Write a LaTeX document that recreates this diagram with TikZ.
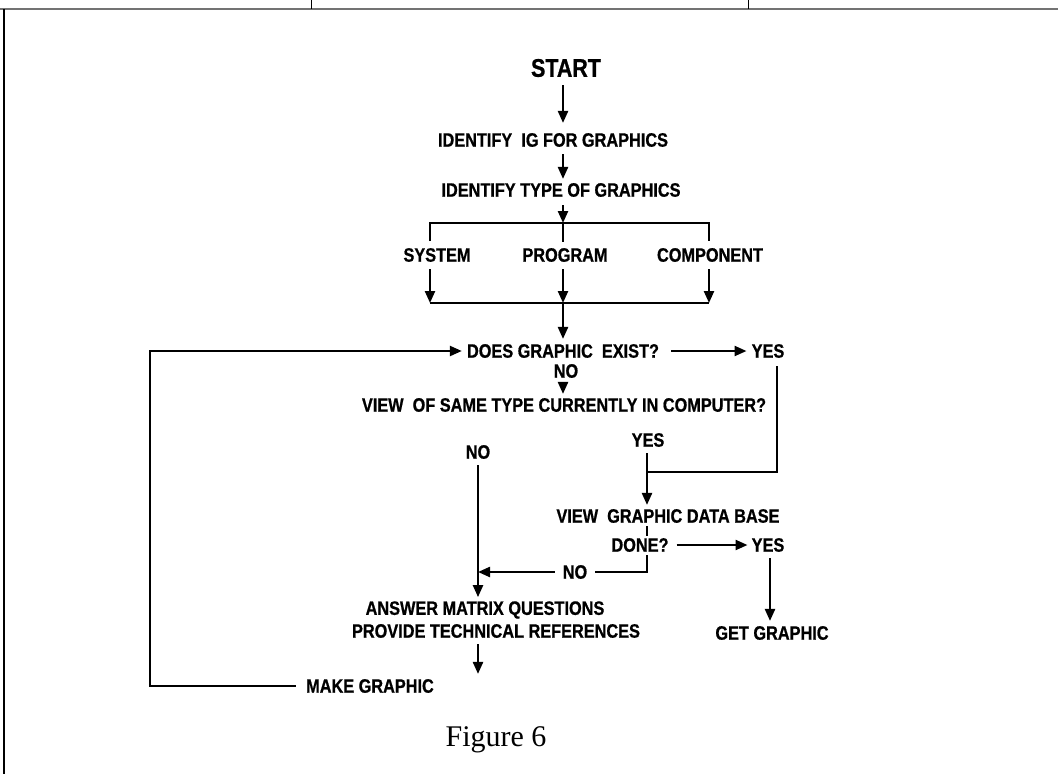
\documentclass[tikz,border=0pt]{standalone}
\usepackage{fontspec}
\newfontfamily\flowfont{Liberation Sans}[FakeStretch=0.84, BoldFeatures={FakeBold=0.8}]
\newfontfamily\capfont{Liberation Serif}
\usetikzlibrary{arrows.meta}
\begin{document}
\begin{tikzpicture}[x=1pt,y=-1pt,
  lbl/.style={inner sep=0pt, font=\flowfont\bfseries\fontsize{19.4}{21}\selectfont},
  biglbl/.style={inner sep=0pt, font=\flowfont\bfseries\fontsize{25.5}{27}\selectfont},
  wire/.style={line width=2.3pt, line join=miter, line cap=butt},
  arr/.style={wire, -{Triangle[length=12pt,width=10pt]}},
]
\useasboundingbox (0,0) rectangle (1058,774);

% page frame
\draw[line width=2pt, black!55] (0,9) -- (1058,9);
\draw[line width=1.2pt] (4,9) -- (4,774);
\draw[line width=1pt] (311,0) -- (311,9);
\draw[line width=1pt] (748,0) -- (748,9);

% column guides
\coordinate (ax) at (563,0);
\coordinate (vgx) at (647,0);
\coordinate (nx) at (478,0);
\coordinate (gx) at (770,0);

% texts
\node[biglbl] (start) at (566,68) {START};
\node[lbl] (idig) at (553,140) {IDENTIFY\ \ IG FOR GRAPHICS};
\node[lbl] (idtype) at (561,190) {IDENTIFY TYPE OF GRAPHICS};
\node[lbl] (sys) at (437,255) {SYSTEM};
\node[lbl] (prog) at (565,255) {PROGRAM};
\node[lbl] (comp) at (710,255) {COMPONENT};
\node[lbl] (does) at (563,351) {DOES GRAPHIC\ \ EXIST?};
\node[lbl] (yes1) at (768,351) {YES};
\node[lbl] (no1) at (566,371) {NO};
\node[lbl] (view) at (564,405) {VIEW\ \ OF SAME TYPE CURRENTLY IN COMPUTER?};
\node[lbl] (yes2) at (648,440) {YES};
\node[lbl] (no2) at (478,452) {NO};
\node[lbl] (vgdb) at (668,516) {VIEW\ \ GRAPHIC DATA BASE};
\node[lbl] (done) at (640,545) {DONE?};
\node[lbl] (yes3) at (768,545) {YES};
\node[lbl] (no3) at (575,572) {NO};
\node[lbl] (ans1) at (485,610) {ANSWER MATRIX QUESTIONS};
\node[lbl] (ans2) at (496,631) {PROVIDE TECHNICAL REFERENCES};
\node[lbl] (make) at (370,686) {MAKE GRAPHIC};
\node[lbl] (get) at (772,633) {GET GRAPHIC};
\node[font=\capfont\fontsize{30}{32}\selectfont, inner sep=0pt] (cap) at (496,740) {Figure 6};

% junctions
\coordinate (tl) at (430,223);
\coordinate (tr) at (709,223);
\coordinate (tm) at (563,223);
\coordinate (bl) at (430,303);
\coordinate (br) at (709,303);
\coordinate (bm) at (563,303);
\coordinate (tls) at (430,241);
\coordinate (trs) at (709,241);
\coordinate (lx) at (150,0);
\coordinate (rl) at (777,472);

% top of the flow
\draw[arr, shorten <=8pt, shorten >=10pt] (start.south -| ax) -- (idig.north -| ax);
\draw[arr, shorten <=7pt, shorten >=4pt] (idig.south -| ax) -- (idtype.north -| ax);
\draw[arr, shorten <=8pt] (idtype.south -| ax) -- (tm);

% branch to the three graphic types
\draw[wire] (tls) -- (tl) -- (tr) -- (trs);
\draw[wire, shorten >=6pt] (tm) -- (prog.north -| tm);
\draw[arr, shorten <=7pt] (sys.south -| bl) -- (bl);
\draw[arr, shorten <=7pt] (prog.south -| bm) -- (bm);
\draw[arr, shorten <=7pt] (comp.south -| br) -- (br);
\draw[wire] (bl) -- (br);
\draw[arr, shorten >=5pt] (bm) -- (does.north -| bm);

% existence test
\draw[arr, shorten <=12pt, shorten >=5pt] (does.east) -- (yes1.west);
\draw[arr, shorten <=4pt, shorten >=4pt] (no1.south -| ax) -- (view.north -| ax);
\draw[wire, shorten <=8pt] (yes1.south -| rl) -- (rl) -- (rl -| vgx);
\draw[arr, shorten <=6pt, shorten >=4pt] (yes2.south -| vgx) -- (vgdb.north -| vgx);

% data base review
\draw[wire, shorten <=3pt, shorten >=2pt] (vgdb.south -| vgx) -- (done.north -| vgx);
\draw[arr, shorten <=8pt, shorten >=4pt] (done.east) -- (yes3.west);
\draw[wire, shorten <=3pt, shorten >=8pt] (done.south -| vgx) -- (no3.east -| vgx) -- (no3.east);
\draw[arr, shorten <=8pt] (no3.west) -- (no3.west -| nx);
\draw[arr, shorten <=6pt, shorten >=5pt] (yes3.south -| gx) -- (get.north -| gx);

% make a new graphic and loop back
\draw[arr, shorten <=6pt, shorten >=4pt] (no2.south -| nx) -- (ans1.north -| nx);
\draw[arr, shorten <=6pt, shorten >=5pt] (ans2.south -| nx) -- (make.north -| nx);
\draw[arr, shorten <=10pt, shorten >=5pt] (make.west) -- (make.west -| lx) -- (does.west -| lx) -- (does.west);
\end{tikzpicture}
\end{document}
